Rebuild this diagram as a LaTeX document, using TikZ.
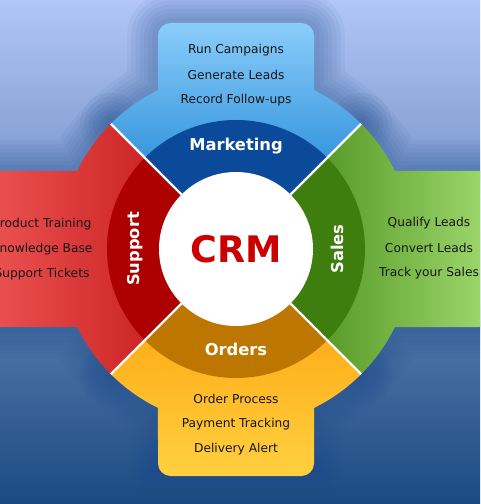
\documentclass[tikz,border=0pt]{standalone}
\usepackage{fontspec}
\setmainfont{DejaVu Sans}
\usetikzlibrary{positioning}

\definecolor{bgtop}{HTML}{B2C6F8}
\definecolor{bgmid}{HTML}{93AEE6}
\definecolor{bgbot}{HTML}{1B4A80}
\definecolor{bgglow}{HTML}{1F4C8C}
\definecolor{itemtext}{HTML}{161616}
\definecolor{crmred}{HTML}{CC0000}
% outer and inner colours of the four parts
\definecolor{mktlight}{HTML}{8ACDFA}
\definecolor{mktdark}{HTML}{0072CB}
\definecolor{mktring}{HTML}{0B4A9B}
\definecolor{sallight}{HTML}{A5DE75}
\definecolor{saldark}{HTML}{337A03}
\definecolor{salring}{HTML}{3D7E0E}
\definecolor{ordlight}{HTML}{FFD040}
\definecolor{orddark}{HTML}{FF9800}
\definecolor{ordring}{HTML}{BD7700}
\definecolor{suplight}{HTML}{F05858}
\definecolor{supdark}{HTML}{BB0C0C}
\definecolor{supring}{HTML}{AD0000}

% outlines of the four parts (sector + tab)
\newcommand{\mktpath}{(0,0) -- (45:177) arc (45:63.85:177) -- (78,200)
  [rounded corners=9] -- (78,226) -- (-78,226) -- (-78,200)
  [sharp corners] -- (-78,158.9) arc (116.15:135:177) -- cycle}
\newcommand{\salpath}{(0,0) -- (-45:177) arc (-45:-26.15:177) -- (270,-78)
  -- (270,78) -- (158.9,78) arc (26.15:45:177) -- cycle}
\newcommand{\ordpath}{(0,0) -- (-135:177) arc (-135:-116.15:177) -- (-78,-200)
  [rounded corners=9] -- (-78,-227) -- (78,-227) -- (78,-200)
  [sharp corners] -- (78,-158.9) arc (-63.85:-45:177) -- cycle}
\newcommand{\suppath}{(0,0) -- (135:177) arc (135:153.85:177) -- (-270,78)
  -- (-270,-78) -- (-158.9,-78) arc (206.15:225:177) -- cycle}

\begin{document}
\begin{tikzpicture}[x=0.025cm,y=0.025cm,node distance=0.625cm,on grid,
  item/.style={text=itemtext,font=\fontsize{8.7}{10}\selectfont},
  ringlabel/.style={text=white,font=\bfseries\fontsize{11.6}{14}\selectfont},
  glow/.style={draw=bgglow,line width=#1pt,draw opacity=0.06,line join=round}]

\useasboundingbox (-236,-255) rectangle (244,249);
\clip (-236,-255) rectangle (244,249);

% background
\shade[top color=bgtop,middle color=bgmid,bottom color=bgbot]
  (-236,-255) rectangle (244,249);

% soft shadow round the shape
\foreach \w in {44,38,32,26,20,14,8} {
  \draw[glow=\w] \mktpath;
  \draw[glow=\w] \salpath;
  \draw[glow=\w] \ordpath;
  \draw[glow=\w] \suppath;
}

% outer parts
\shade[top color=mktlight,bottom color=mktdark] \mktpath;
\shade[left color=saldark,right color=sallight] \salpath;
\shade[top color=orddark,bottom color=ordlight] \ordpath;
\shade[left color=suplight,right color=supdark] \suppath;

% inner ring
\fill[mktring] (0,0) -- (45:129) arc (45:135:129) -- cycle;
\fill[supring] (0,0) -- (135:129) arc (135:225:129) -- cycle;
\fill[ordring] (0,0) -- (225:129) arc (225:315:129) -- cycle;
\fill[salring] (0,0) -- (-45:129) arc (-45:45:129) -- cycle;

% white separators and centre
\foreach \a in {45,135,225,315}
  \draw[white,line width=1.6pt] (\a:77) -- (\a:177);
\fill[white] (0,0) circle (77);

\node[text=crmred,font=\bfseries\fontsize{26}{28}\selectfont] (crm) at (0,0) {CRM};

% ring labels
\node[ringlabel] (mkt) at (0,103) {Marketing};
\node[ringlabel] (ord) at (0,-100) {Orders};
\node[ringlabel,rotate=90] (sup) at (-101,0) {Support};
\node[ringlabel,rotate=90] (sal) at (101,0) {Sales};

% marketing
\node[item] (m_1) at (0,199) {Run Campaigns};
\node[item] (m_2) [below=of m_1] {Generate Leads};
\node[item] (m_3) [below=of m_2] {Record Follow-ups};

% sales
\node[item] (s_1) at (193,26) {Qualify Leads};
\node[item] (s_2) [below=of s_1] {Convert Leads};
\node[item] (s_3) [below=of s_2] {Track your Sales};

% orders
\node[item] (o_1) at (0,-150) {Order Process};
\node[item] (o_2) [below=of o_1] {Payment Tracking};
\node[item] (o_3) [below=of o_2] {Delivery Alert};

% support
\node[item] (p_1) at (-194,25) {Product Training};
\node[item] (p_2) [below=of p_1] {Knowledge Base};
\node[item] (p_3) [below=of p_2] {Support Tickets};
\end{tikzpicture}
\end{document}
